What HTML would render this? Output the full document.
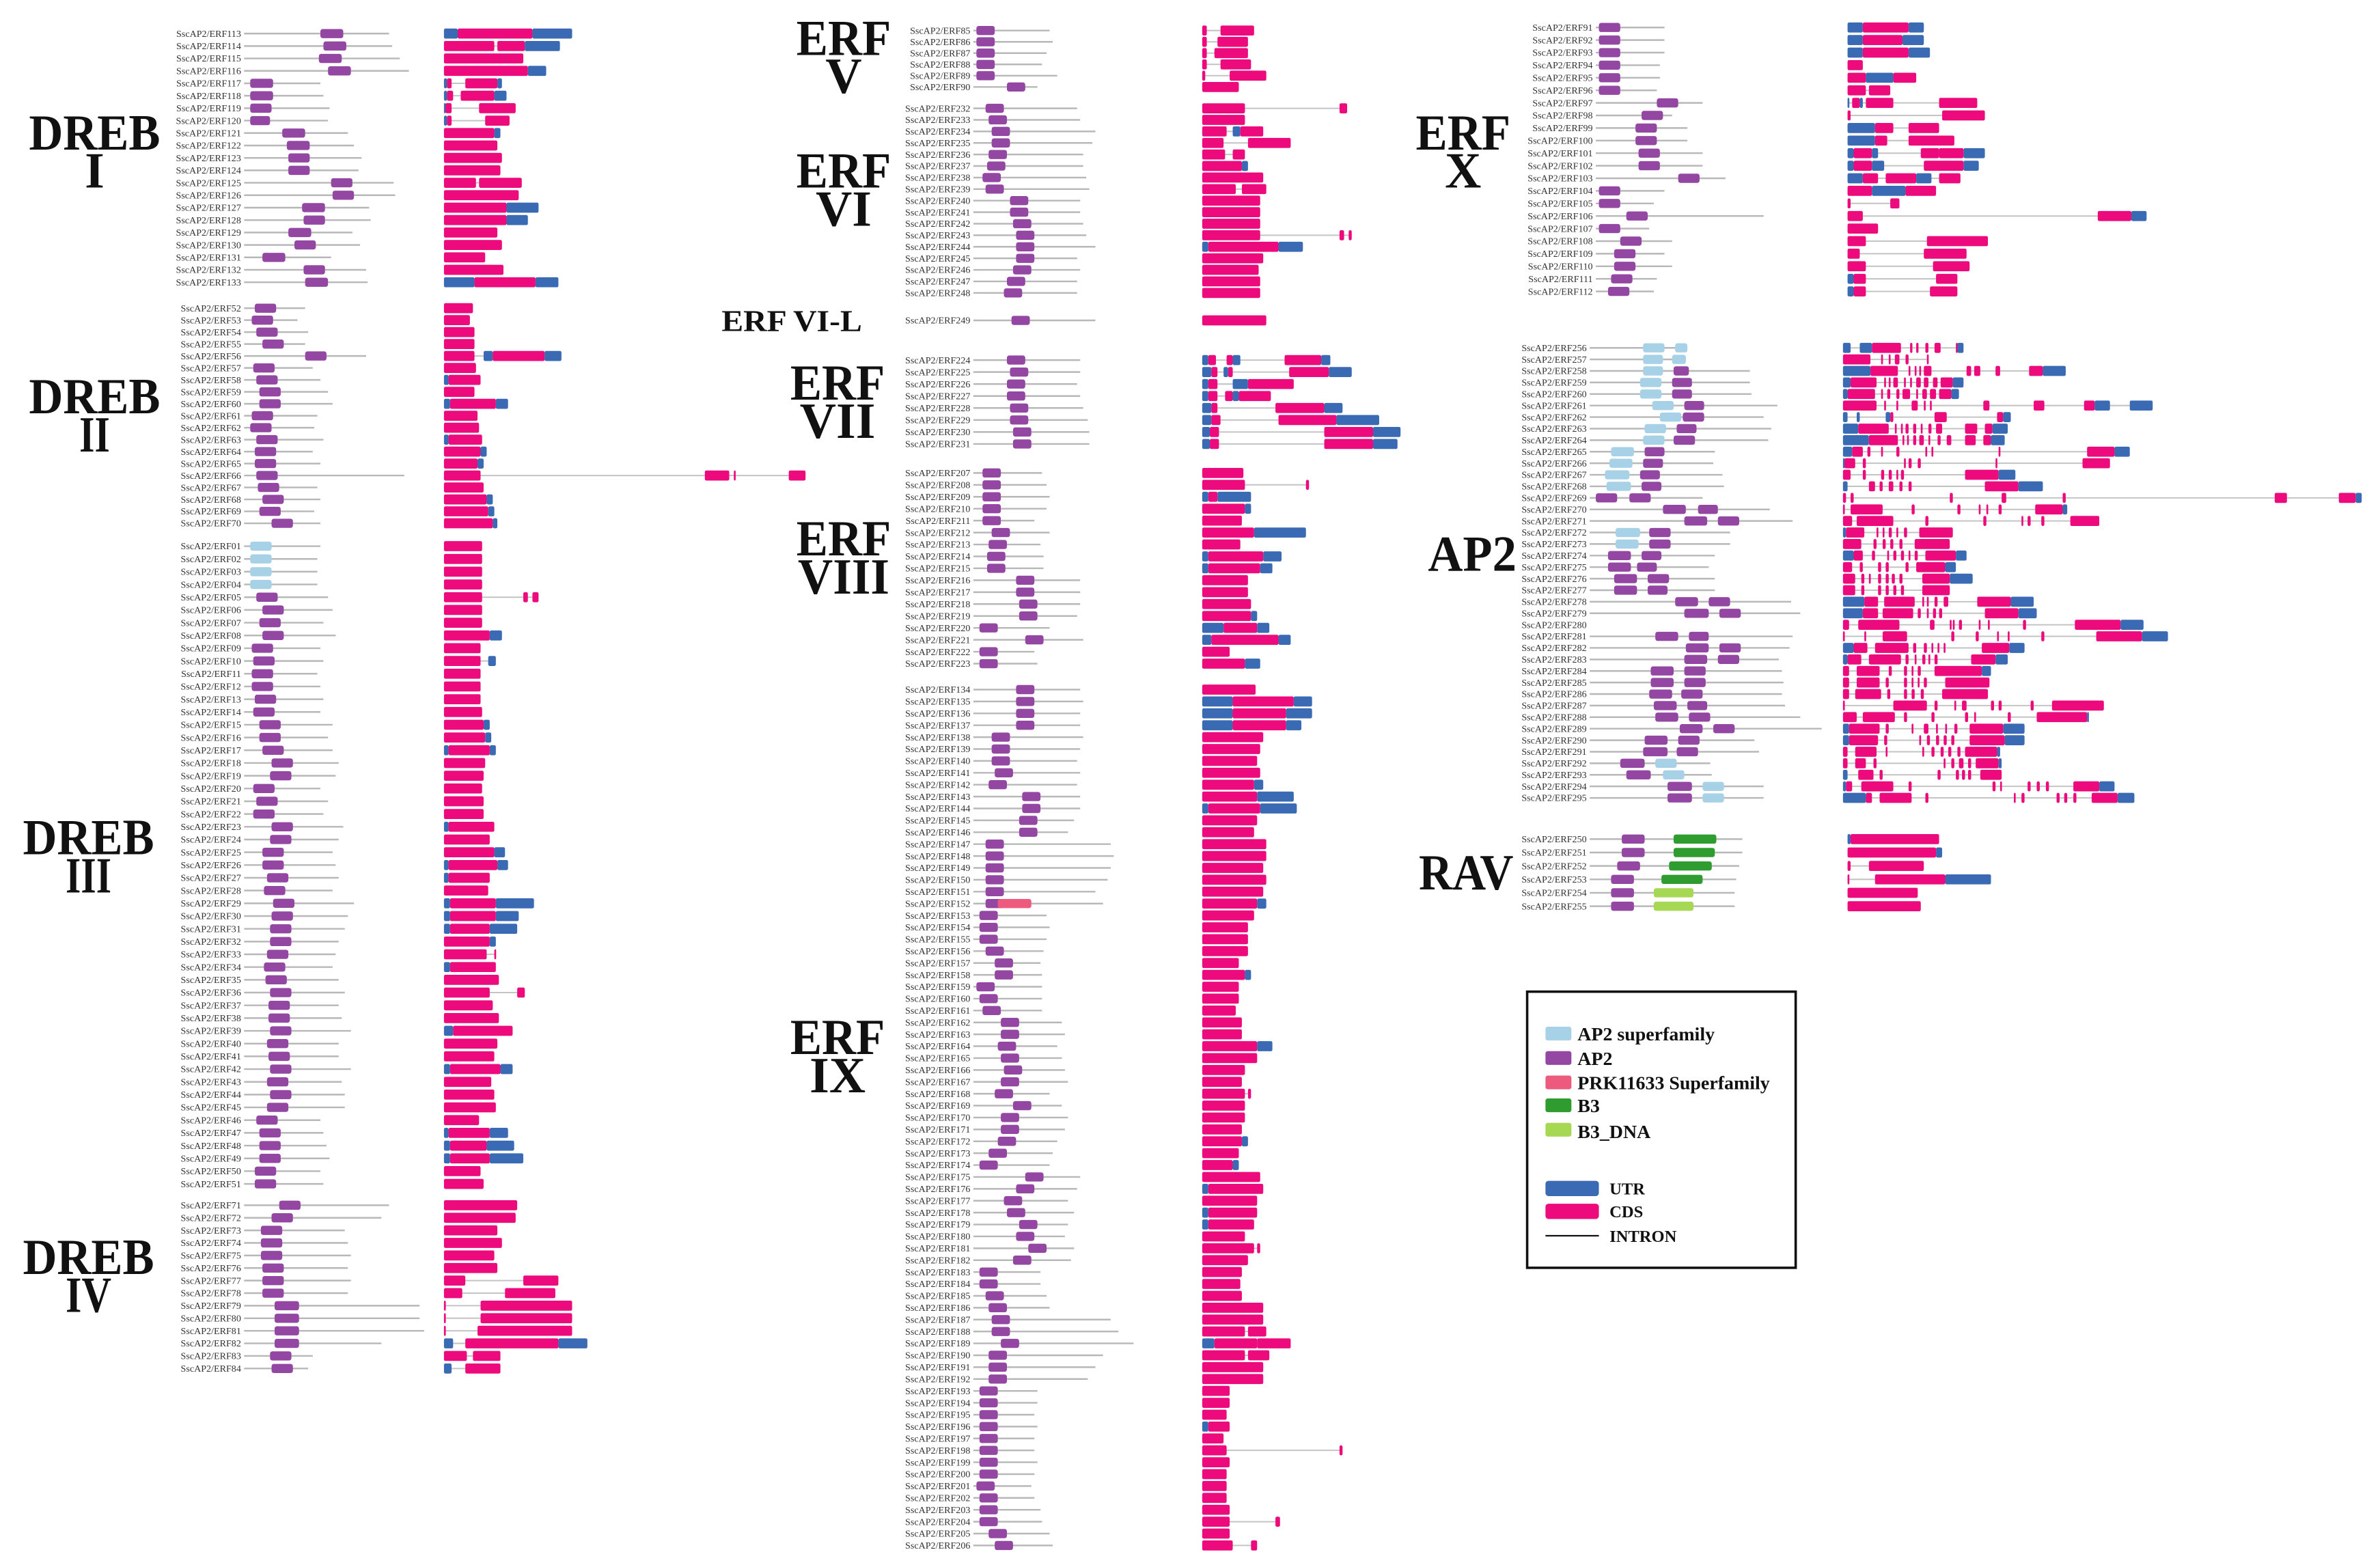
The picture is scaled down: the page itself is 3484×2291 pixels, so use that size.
<!DOCTYPE html>
<html><head><meta charset="utf-8">
<style>
html,body{margin:0;padding:0;background:#fff;}
svg{display:block;}
text{font-family:"Liberation Serif",serif;}
</style></head>
<body>
<svg id="fig" xmlns="http://www.w3.org/2000/svg" width="3484" height="2291" viewBox="0 0 1560 1025.8">
<rect x="0" y="0" width="1560" height="1026" fill="#fff"/>
<g id="groupLabels" font-weight="bold" fill="#111" text-anchor="middle">
  <text x="62" y="98" font-size="33" textLength="86" lengthAdjust="spacingAndGlyphs">DREB</text>
  <text x="62" y="123" font-size="33">I</text>
  <text x="62" y="271" font-size="33" textLength="86" lengthAdjust="spacingAndGlyphs">DREB</text>
  <text x="62" y="296" font-size="33" textLength="20" lengthAdjust="spacingAndGlyphs">II</text>
  <text x="58" y="560" font-size="33" textLength="86" lengthAdjust="spacingAndGlyphs">DREB</text>
  <text x="58" y="585" font-size="33" textLength="30" lengthAdjust="spacingAndGlyphs">III</text>
  <text x="58" y="835" font-size="33" textLength="86" lengthAdjust="spacingAndGlyphs">DREB</text>
  <text x="58" y="860" font-size="33" textLength="30" lengthAdjust="spacingAndGlyphs">IV</text>
  <text x="553" y="36" font-size="33" textLength="62" lengthAdjust="spacingAndGlyphs">ERF</text>
  <text x="553" y="61" font-size="33">V</text>
  <text x="553" y="123" font-size="33" textLength="62" lengthAdjust="spacingAndGlyphs">ERF</text>
  <text x="553" y="148" font-size="33">VI</text>
  <text x="519" y="217" font-size="20" textLength="92" lengthAdjust="spacingAndGlyphs">ERF VI-L</text>
  <text x="549" y="262" font-size="33" textLength="62" lengthAdjust="spacingAndGlyphs">ERF</text>
  <text x="549" y="287" font-size="33">VII</text>
  <text x="553" y="364" font-size="33" textLength="62" lengthAdjust="spacingAndGlyphs">ERF</text>
  <text x="553" y="389" font-size="33" textLength="60" lengthAdjust="spacingAndGlyphs">VIII</text>
  <text x="549" y="691" font-size="33" textLength="62" lengthAdjust="spacingAndGlyphs">ERF</text>
  <text x="549" y="716" font-size="33">IX</text>
  <text x="959" y="98" font-size="33" textLength="62" lengthAdjust="spacingAndGlyphs">ERF</text>
  <text x="959" y="123" font-size="33">X</text>
  <text x="965" y="374" font-size="33" textLength="58" lengthAdjust="spacingAndGlyphs">AP2</text>
  <text x="961" y="583" font-size="33" textLength="62" lengthAdjust="spacingAndGlyphs">RAV</text>
</g>
<g id="legend" font-weight="bold" font-size="12.5" fill="#111">
  <rect x="1001" y="650" width="176" height="181" fill="none" stroke="#111" stroke-width="1.6"/>
  <rect x="1013" y="673" width="17" height="9" rx="1.5" fill="#a6d1e6"/>
  <text x="1034" y="682">AP2 superfamily</text>
  <rect x="1013" y="689" width="17" height="9" rx="1.5" fill="#9447a2"/>
  <text x="1034" y="698">AP2</text>
  <rect x="1013" y="705" width="17" height="9" rx="1.5" fill="#ee5a7e"/>
  <text x="1034" y="714">PRK11633 Superfamily</text>
  <rect x="1013" y="720" width="17" height="9" rx="1.5" fill="#2e9c2e"/>
  <text x="1034" y="729">B3</text>
  <rect x="1013" y="736" width="17" height="9" rx="1.5" fill="#a6d854"/>
  <text x="1034" y="746">B3_DNA</text>
  <rect x="1013" y="774" width="35" height="10" rx="2" fill="#3a6ab3"/>
  <text x="1055" y="783" font-size="11">UTR</text>
  <rect x="1013" y="789" width="35" height="10" rx="2" fill="#ec0a7c"/>
  <text x="1055" y="798" font-size="11">CDS</text>
  <line x1="1013" y1="810" x2="1048" y2="810" stroke="#111" stroke-width="1"/>
  <text x="1055" y="814" font-size="11">INTRON</text>
</g>
<g id="rows"></g>
</svg>
<script>
// Data: "id:motifLineLength|motifs (type start-end)|gene segments (U=UTR, C=CDS start-end)"
const drebI = ["113:95|P50-65|U0-9 C9-58 U58-84","114:97|P52-67|C0-33 C35-53 U53-76","115:102|P49-64|C0-52","116:108|P55-70|C0-55 U55-67","117:50|P4-19|U0-2 C2-5 C14-35 U35-38","118:52|P4-19|U0-2 C2-6 C11-33 U33-41","119:56|P4-18|U0-1 C1-5 C23-47","120:55|P4-17|U0-2 C2-5 C27-43","121:68|P25-40|C0-33 U33-37","122:72|P28-43|C0-35","123:77|P29-43|C0-38","124:75|P29-43|C0-37","125:98|P57-71|C0-21 C23-51","126:99|P58-72|C0-49","127:82|P38-53|C0-41 U41-62","128:83|P39-53|C0-41 U41-55","129:71|P29-44|C0-35","130:76|P33-47|C0-38","131:57|P12-27|C0-27","132:80|P39-53|C0-39","133:81|P40-55|U0-20 C20-60 U60-75"];
const drebII = ["52:40|P7-21|C0-19","53:35|P5-19|C0-17","54:42|P8-22|C0-20","55:40|P12-26|C0-20","56:80|P40-54|C0-20 U26-32 C32-66 U66-77","57:45|P6-20|C0-21","58:50|P8-22|U0-3 C3-24","59:55|P10-24|C0-20","60:58|P10-24|U0-4 C4-34 U34-42","61:48|P5-19|C0-22","62:46|P4-18|C0-23","63:52|P8-22|U0-3 C3-25","64:45|P7-21|C0-24 U24-28","65:50|P7-21|C0-22 U22-26","66:105|P8-22|C0-24 C171-187 C190-191 C226-237","67:48|P9-23|C0-26","68:50|P12-26|C0-28 U28-32","69:46|P10-24|C0-29 U29-33","70:50|P18-32|C0-32 U32-35"];
const drebIII = ["01:50|S4-18|C0-25","02:48|S4-18|C0-25","03:48|S4-18|C0-25","04:48|S4-18|C0-25","05:55|P8-22|C0-25 C52-55 C58-62","06:58|P12-26|C0-25","07:52|P10-24|C0-25","08:60|P12-26|C0-30 U30-38","09:50|P5-19|C0-24","10:52|P6-20|C0-24 U29-34","11:48|P5-19|C0-24","12:50|P5-19|C0-24","13:52|P7-21|C0-24","14:50|P6-20|C0-25","15:58|P10-24|C0-26 U26-30","16:55|P10-24|C0-27 U27-31","17:58|P12-26|U0-3 C3-30 U30-34","18:62|P18-32|C0-27","19:60|P17-31|C0-26","20:50|P6-20|C0-25","21:55|P8-22|C0-26","22:52|P6-20|C0-26","23:65|P18-32|U0-3 C3-33","24:62|P17-31|C0-30","25:58|P12-26|C0-33 U33-40","26:60|P12-26|U0-3 C3-35 U35-42","27:62|P15-29|U0-3 C3-30","28:58|P13-27|C0-29","29:72|P19-33|U0-4 C4-34 U34-59","30:68|P18-32|U0-4 C4-34 U34-49","31:66|P17-31|U0-4 C4-30 U30-48","32:62|P17-31|C0-30 U30-34","33:60|P15-29|C0-28 C33-34","34:58|P13-27|U0-4 C4-34","35:62|P14-28|C0-36","36:66|P17-31|C0-30 C48-53","37:62|P16-30|C0-32","38:64|P16-30|C0-36","39:70|P17-31|U0-6 C6-45","40:62|P15-29|C0-35","41:62|P16-30|C0-33","42:70|P17-31|U0-4 C4-37 U37-45","43:64|P15-29|C0-31","44:66|P17-31|C0-33","45:66|P15-29|C0-34","46:50|P8-22|C0-23","47:52|P10-24|U0-3 C3-30 U30-42","48:54|P10-24|U0-4 C4-28 U28-46","49:56|P10-24|U0-4 C4-30 U30-52","50:50|P7-21|C0-24","51:52|P7-21|C0-26"];
const drebIV = ["71:95|P23-37|C0-48","72:90|P18-32|C0-47","73:66|P11-25|C0-35","74:68|P11-25|C0-38","75:70|P11-25|C0-33","76:68|P12-26|C0-35","77:70|P12-26|C0-14 C52-75","78:68|P12-26|C0-12 C40-73","79:115|P20-36|C0-1 C24-84","80:115|P20-36|C0-1 C24-84","81:118|P20-36|C0-1 C22-84","82:90|P20-36|U0-6 C14-75 U75-94","83:45|P17-31|C0-15 C19-37","84:42|P18-32|U0-5 C14-37"];
const erfV = ["85:50|P2-14|C0-3 C12-34","86:52|P2-14|C0-3 C10-30","87:48|P2-14|C0-3 C8-30","88:45|P2-14|C0-3 C12-32","89:55|P2-14|C0-2 C18-42","90:42|P22-34|C0-24"];
const erfVI = ["232:68|P8-20|C0-28 C90-95","233:70|P10-22|C0-28","234:80|P12-24|C0-16 U20-25 C25-40","235:78|P12-24|C0-14 C30-58","236:72|P10-22|C0-15 C20-28","237:72|P9-21|C0-26 U26-30","238:74|P6-18|C0-40","239:76|P8-20|C0-22 C26-42","240:70|P24-36|C0-38","241:70|P24-36|C0-38","242:72|P26-38|C0-38","243:74|P28-40|C0-38 C90-93 C96-98","244:80|P28-40|U0-4 C4-50 U50-66","245:68|P28-40|C0-40","246:70|P26-38|C0-37","247:68|P22-34|C0-38","248:68|P20-32|C0-38"];
const erfVIL = ["249:80|P25-37|C0-42"];
const erfVII = ["224:70|P22-34|U0-4 C4-9 C16-20 U20-25 C54-78 U78-84","225:70|P24-36|U0-6 C6-10 U14-17 C17-20 C57-83 U83-98","226:68|P22-34|U0-4 C4-10 U20-30 C30-60","227:70|P22-34|U0-4 C4-10 C15-20 U20-24 C24-45","228:72|P24-36|U0-6 C6-10 C48-80 U80-92","229:75|P24-36|U0-6 C6-12 C50-88 U88-116","230:76|P26-38|U0-5 C5-11 C80-112 U112-130","231:76|P26-38|U0-5 C5-11 C80-112 U112-128"];
const erfVIII = ["207:45|P6-18|C0-27","208:48|P6-18|C0-28 C68-70","209:50|P6-18|U0-4 C4-10 U10-32","210:48|P6-18|C0-28 U28-32","211:40|P6-18|C0-26","212:50|P12-24|C0-34 U34-68","213:44|P10-22|C0-25","214:46|P9-21|U0-4 C4-40 U40-52","215:46|P9-21|U0-4 C4-38 U38-46","216:70|P28-40|C0-30","217:70|P28-40|C0-30","218:70|P30-42|C0-32","219:68|P30-42|C0-32 U32-36","220:50|P4-16|U0-14 C14-36 U36-44","221:72|P34-46|U0-6 C6-50 U50-58","222:40|P4-16|C0-18","223:42|P4-16|C0-28 U28-38"];
const erfIX = ["134:70|P28-40|C0-35","135:72|P28-40|U0-20 C20-60 U60-72","136:70|P28-40|U0-20 C20-55 U55-72","137:70|P28-40|U0-20 C20-55 U55-65","138:72|P12-24|C0-40","139:70|P12-24|C0-38","140:68|P12-24|C0-36","141:70|P14-26|C0-38","142:68|P10-22|C0-34 U34-40","143:70|P32-44|C0-36 U36-60","144:70|P32-44|U0-4 C4-38 U38-62","145:66|P30-42|C0-36","146:62|P30-42|C0-34","147:90|P8-20|C0-42","148:92|P8-20|C0-42","149:90|P8-20|C0-40","150:88|P8-20|C0-42","151:80|P8-20|C0-40","152:85|P8-20 K16-38|C0-36 U36-42","153:48|P4-16|C0-34","154:50|P4-16|C0-30","155:48|P4-16|C0-30","156:46|P8-20|C0-30","157:44|P14-26|C0-24","158:45|P14-26|C0-28 U28-32","159:45|P2-14|C0-24","160:45|P4-16|C0-24","161:45|P6-18|C0-22","162:58|P18-30|C0-26","163:60|P18-30|C0-26","164:55|P16-28|C0-36 U36-46","165:58|P18-30|C0-36","166:60|P20-32|C0-28","167:62|P18-30|C0-26","168:50|P14-26|C0-28 C30-32","169:58|P26-38|C0-28","170:62|P18-30|C0-28","171:60|P18-30|C0-26","172:55|P16-28|C0-26 U26-30","173:52|P10-22|C0-24","174:50|P4-16|C0-20 U20-24","175:70|P34-46|C0-38","176:68|P28-40|U0-4 C4-40","177:62|P20-32|C0-36","178:66|P22-34|U0-4 C4-36","179:62|P30-42|U0-4 C4-34","180:60|P28-40|C0-28","181:66|P36-48|C0-34 C36-38","182:64|P26-38|C0-30","183:44|P4-16|C0-26","184:44|P4-16|C0-25","185:48|P8-20|C0-26","186:50|P10-22|C0-40","187:90|P12-24|C0-40","188:95|P12-24|C0-28 C30-42","189:105|P18-30|U0-8 C8-36 C36-58","190:85|P10-22|C0-28 C30-44","191:80|P10-22|C0-40","192:75|P10-22|C0-40","193:42|P4-16|C0-18","194:42|P4-16|C0-18","195:40|P4-16|C0-16","196:42|P4-16|U0-4 C4-18","197:40|P4-16|C0-14","198:40|P4-16|C0-16 C90-92","199:42|P4-16|C0-18","200:40|P4-16|C0-16","201:38|P2-14|C0-16","202:40|P4-16|C0-16","203:44|P4-16|C0-18","204:45|P4-16|C0-18 C48-51","205:50|P10-22|C0-18","206:52|P14-26|C0-20 C32-36"];
const erfX = ["91:45|P2-16|U0-10 C10-40 U40-50","92:45|P2-16|U0-10 C10-36 U36-50","93:45|P2-16|U0-10 C10-40 U40-54","94:42|P2-16|C0-10","95:42|P2-16|C0-12 U12-30 C30-45","96:40|P2-16|C0-12 C14-28","97:70|P40-54|U0-1 C3-8 U8-10 C12-30 C60-85","98:50|P30-44|C0-2 C62-90","99:60|P26-40|U0-18 C18-30 C40-60","100:60|P26-40|U0-18 C18-26 C40-70","101:70|P28-42|U0-4 C4-16 U16-20 C48-60 C60-76 U76-90","102:70|P28-42|U0-4 C4-16 U16-24 C50-76 U76-86","103:85|P54-68|U0-10 C10-20 C25-45 U45-55 C60-74","104:45|P2-16|C0-16 U16-38 C38-58","105:38|P2-16|C0-2 C28-34","106:110|P20-34|C0-10 C164-186 U186-196","107:35|P2-16|C0-20","108:50|P16-30|C0-12 C52-92","109:45|P12-26|C0-8 C50-78","110:50|P12-26|C0-12 C56-80","111:40|P10-24|U0-4 C4-12 C58-72","112:38|P8-22|U0-4 C4-12 C54-72"];
const ap2 = ["256:64|S35-49 S56-64|U0-5 U11-19 C19-38 C44-45.5 C48-49.5 C54-56 C60-64 C74-75 U75-79","257:63|S35-48 S54-63|C0-18 C25-26 C30-31 C34-37 C41-43 C55-56","258:105|S35-48 P55-65|U0-18 C18-36 C43-44 C47-48 C50-51 C53-58 C81-84 C86-90 C100-103 C122-131 U131-146","259:105|S33-47 P54-67|U0-5 C5-22 C27-28 C30-31 C33-36 C40-41 C44-45 C48-51 C53-56 C59-62 C64-72 U72-79","260:106|S33-47 P54-67|U0-3 C3-21 C25-26 C29-31 C35-37 C39-44 C48-49 C52-55 C57-61 C63-71 U71-76","261:123|S41-55 P62-75|C0-22 C27-28 C35-36 C45-49 C53-54 C57-58 C92-96 C125-132 C158-165 U165-175 U188-203","262:114|S46-60 P61-75|U0-3 U9-11 U28-31 C31-33 C60-68 C101-105 U105-110","263:119|S36-50 P57-70|U0-10 C10-30 C34-35 C38-39 C41-43 C46-48 C51-52 C56-58 C61-65 C80-88 C93-98 U98-108","264:117|S35-49 P55-69|U0-17 C17-36 C39-40 C42-43 C46-48 C50-53 C56-57 C62-64 C68-71 C80-87 C92-97 U97-106","265:82|S14-29 P36-49|U0-6 C6-13 C16-18 C25-26 C35-37 C54-55 C58-59 C102-103 C160-178 U178-188","266:81|S13-28 P35-48|U0-1 C1-8 C13-15 C40-41 C43-45 C49-51 C100-101 C157-175","267:87|S10-26 P33-46|C0-5 C13-15 C25-27 C30-32 C35-36 C38-40 C80-102 U102-113","268:88|S11-27 P34-47|U0-3 C17-21 C24-26 C30-33 C37-39 C43-45 C93-115 U115-131","269:74|P4-18 P26-40|C0-2 C5-7 C70-72 C104-107 C144-146 C283-291 C325-336 U336-340","270:118|P48-63 P71-84|C0-1 C5-26 C45-47 C75-77 C89-90 C94-95 C102-104 C126-144 U144-147","271:133|P62-77 P84-98|C0-6 C9-33 C54-56 C92-94 C117-118 C121-123 C130-132 C149-168","272:92|S17-33 P39-53|U0-2 C2-14 C22-23 C26-27 C30-32 C35-36 C40-42 C50-72","273:92|S17-32 P39-53|C0-12 C20-22 C26-28 C31-33 C37-39 C47-70","274:82|P12-27 P34-47|U0-7 C7-13 C19-21 C29-30 C33-35 C38-40 C43-44 C47-49 C54-74 U74-81","275:78|P12-27 P31-44|C0-6 C11-13 C23-25 C28-30 C41-43 C48-67 U67-74","276:82|P16-31 P38-52|C0-8 C12-14 C17-18 C23-25 C28-30 C32-34 C37-39 C52-70 U70-85","277:82|P16-31 P38-51|C0-8 C12-14 C23-25 C28-30 C33-35 C38-40 C52-70","278:132|P56-71 P78-92|U0-14 C14-23 C27-47 C52-53 C55-56 C60-62 C66-69 C88-110 U110-125","279:138|P62-78 P85-99|U0-13 C13-23 C26-46 C49-51 C55-56 C59-61 C63-65 C93-115 U115-127","280:0||C0-4 C10-37 C57-60 C70-71 C72-73 C76-78 C89-90 C95-96 C118-120 C152-182 U182-197","281:133|P43-58 P65-78|C0-1 C14-15 C26-42 C71-73 C87-89 C101-102 C108-109 C130-132 C166-196 U196-213","282:131|P63-78 P85-99|U0-7 C7-16 C21-43 C46-48 C53-55 C58-59 C62-63 C66-67 C91-109 U109-119","283:124|P62-77 P84-98|U0-3 C3-12 C17-38 C41-43 C47-48 C52-54 C56-57 C60-62 C84-100 U100-108","284:126|P40-55 P62-76|C0-4 C9-24 C30-32 C40-42 C45-46 C49-51 C60-91 U91-97","285:127|P40-55 P62-76|C0-4 C9-24 C28-30 C40-42 C45-46 C49-50 C53-55 C67-96","286:126|P39-54 P60-74|C0-4 C8-25 C29-31 C40-42 C45-47 C51-53 C65-95","287:128|P42-57 P64-77|C0-0.3 C33-55 C60-62 C73-74 C78-81 C97-99 C102-104 C123-125 C137-171","288:138|P43-58 P65-79|C0-9 C13-34 C40-42 C58-60 C80-82 C86-87 C108-110 C127-160 U160-161","289:152|P59-74 P81-95|U0-4 C4-24 C28-30 C45-46 C53-56 C61-62 C67-68 C73-75 C83-105 U105-119","290:108|P36-51 P58-72|U0-4 C4-23 C27-29 C50-51 C55-57 C61-63 C66-68 C71-73 C83-106 U106-119","291:111|P35-51 P57-71|C0-3 C8-22 C28-29 C52-53 C58-60 C64-66 C69-71 C75-77 C80-101 U101-103","292:79|P20-36 S43-57|C0-3 C8-15 C20-22 C66-67 C71-73 C76-79 C82-84 C87-102 U102-104","293:80|P24-40 S48-62|U0-3 C10-20 C24-26 C62-64 C74-76 C78-80 C82-84 C90-104","294:114|P51-67 S74-88|U0-2 C2-6 C12-33 C43-45 C98-100 C103-104 C121-123 C127-129 C133-135 C151-168 U168-178","295:114|P51-67 S74-88|U0-15 C15-19 C24-45 C54-56 C112-113 C117-119 C140-142 C145-147 C151-153 C163-180 U180-191"];
const rav = ["250:100|P21-36 B55-83|U0-2 C2-60","251:100|P21-36 B55-82|C0-58 U58-62","252:98|P18-33 B52-80|C0-2 C14-50","253:96|P14-29 B47-74|C0-1 C18-64 U64-94","254:95|P14-29 D42-68|C0-46","255:95|P14-29 D42-68|C0-48"];

// Layout (not data): row range and column origins for each group
const layout = [
  {arr: drebI, name: 'dreb-i', y0: 22, y1: 185, mBase: 160, gBase: 291},
  {arr: drebII, name: 'dreb-ii', y0: 202, y1: 343, mBase: 160, gBase: 291},
  {arr: drebIII, name: 'dreb-iii', y0: 358, y1: 776, mBase: 160, gBase: 291},
  {arr: drebIV, name: 'dreb-iv', y0: 790, y1: 897, mBase: 160, gBase: 291},
  {arr: erfV, name: 'erf-v', y0: 20, y1: 57, mBase: 638, gBase: 788},
  {arr: erfVI, name: 'erf-vi', y0: 71, y1: 192, mBase: 638, gBase: 788},
  {arr: erfVIL, name: 'erf-vi-l', y0: 210, y1: 210, mBase: 638, gBase: 788},
  {arr: erfVII, name: 'erf-vii', y0: 236, y1: 291, mBase: 638, gBase: 788},
  {arr: erfVIII, name: 'erf-viii', y0: 310, y1: 435, mBase: 638, gBase: 788},
  {arr: erfIX, name: 'erf-ix', y0: 452, y1: 1013, mBase: 638, gBase: 788},
  {arr: erfX, name: 'erf-x', y0: 18, y1: 191, mBase: 1046, gBase: 1211},
  {arr: ap2, name: 'ap2', y0: 228, y1: 523, mBase: 1042, gBase: 1208},
  {arr: rav, name: 'rav', y0: 550, y1: 594, mBase: 1042, gBase: 1211}
];
const motifColor = {P: '#9447a2', S: '#a6d1e6', K: '#ee5a7e', B: '#2e9c2e', D: '#a6d854'};
const segColor = {U: '#3a6ab3', C: '#ec0a7c'};
const NS = 'http://www.w3.org/2000/svg';
const root = document.getElementById('rows');

function el(tag, attrs, parent) {
  const e = document.createElementNS(NS, tag);
  for (const k in attrs) e.setAttribute(k, attrs[k]);
  parent.appendChild(e);
  return e;
}
function parseRange(s) {
  const t = s.slice(1).split('-');
  return {type: s[0], a: parseFloat(t[0]), b: parseFloat(t[1])};
}

layout.forEach(function (g) {
  const grp = el('g', {}, root);
  
  
  const n = g.arr.length;
  const step = n > 1 ? (g.y1 - g.y0) / (n - 1) : 0;
  g.arr.forEach(function (rec, i) {
    const y = g.y0 + step * i;
    const id = rec.split(':')[0];
    const parts = rec.slice(id.length + 1).split('|');
    const len = parseFloat(parts[0]);
    const motifs = parts[1] ? parts[1].split(' ').filter(Boolean).map(parseRange) : [];
    const segs = parts[2] ? parts[2].split(' ').filter(Boolean).map(parseRange) : [];
    const row = el('g', {}, grp);
    
    
    const lab = el('text', {x: g.mBase - 2, y: y + 2.1, 'font-size': 6.3, 'text-anchor': 'end', fill: '#333'}, row);
    lab.textContent = 'SscAP2/ERF' + id;
    
    
    if (len > 0) {
      const ln = el('line', {x1: g.mBase, y1: y, x2: g.mBase + len, y2: y, stroke: '#b8b8b8', 'stroke-width': 1.1}, row);
      
      
    }
    motifs.forEach(function (m) {
      const r = el('rect', {x: g.mBase + m.a, y: y - 3, width: m.b - m.a, height: 6, rx: 1.5, fill: motifColor[m.type]}, row);
      
      
    });
    if (segs.length) {
      const lo = Math.min.apply(null, segs.map(function (s) { return s.a; }));
      const hi = Math.max.apply(null, segs.map(function (s) { return s.b; }));
      const il = el('line', {x1: g.gBase + lo, y1: y, x2: g.gBase + hi, y2: y, stroke: '#c4c4c4', 'stroke-width': 0.9}, row);
      
      
    }
    segs.forEach(function (s) {
      const w = Math.max(s.b - s.a, 1.2);
      const r = el('rect', {x: g.gBase + s.a, y: y - 3.3, width: w, height: 6.6, rx: 1, fill: segColor[s.type]}, row);
      
      
    });
  });
});
</script>
</body></html>
